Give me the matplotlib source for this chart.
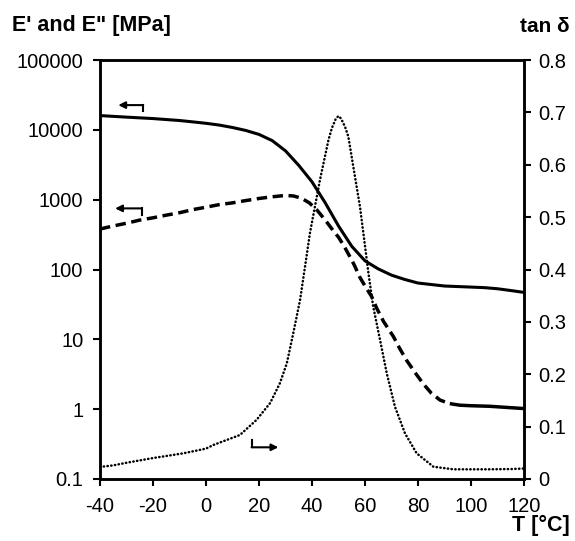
import matplotlib
matplotlib.use("Agg")
import matplotlib.pyplot as plt
import numpy as np

plt.rcParams['font.family'] = ['Liberation Sans', 'DejaVu Sans']

# E' storage modulus [MPa]
T_E1 = [-40, -30, -20, -10, -5, 0, 5, 10, 15, 20, 25, 30, 35, 40, 45, 50, 55, 60, 65, 70, 75, 80, 90, 100, 105, 110, 115, 120]
E1 = [16000, 15200, 14500, 13600, 13000, 12400, 11700, 10800, 9800, 8600, 7000, 5000, 3100, 1800, 900, 420, 215, 133, 102, 83, 72, 64, 58, 56, 55, 53, 50, 47]

# E'' loss modulus [MPa]
T_E2 = [-40, -35, -30, -25, -20, -15, -10, -5, 0, 5, 10, 15, 20, 25, 30, 33, 36, 39, 42, 45, 48, 50, 52, 54, 56, 58, 60,
        62.5, 64.4, 67, 70.7, 73, 75.7, 79, 82, 85, 88.3, 92, 95.8, 100, 107, 115, 120]
E2 = [380, 420, 460, 510, 550, 600, 650, 720, 780, 850, 900, 970, 1040, 1100, 1150, 1130, 1050, 900, 700, 510, 360, 290, 220, 160, 115, 78, 58,
      41, 28, 18, 11, 7.5, 5.0, 3.3, 2.3, 1.7, 1.35, 1.2, 1.14, 1.12, 1.1, 1.05, 1.02]

# tan delta
T_tan = [-40, -35, -30, -20, -8.6, 0, 2.8, 12.8, 19.1, 24.2, 27.9, 30.5, 33, 35.5, 37.5, 39.2, 43, 46.2, 47.5, 49, 50, 51, 52.5, 53.7,
         55.6, 58.1, 60, 61.3, 63.1, 65.7, 68.2, 71.3, 75.1, 79.5, 85.8, 93.3, 100, 107, 115, 120]
tan_d = [0.023, 0.026, 0.031, 0.040, 0.049, 0.058, 0.065, 0.084, 0.113, 0.145, 0.183, 0.221, 0.28, 0.342, 0.41, 0.469, 0.571, 0.647, 0.67, 0.688, 0.693, 0.688, 0.672, 0.654,
         0.596, 0.52, 0.445, 0.393, 0.329, 0.265, 0.202, 0.138, 0.087, 0.049, 0.0235, 0.0185, 0.0185, 0.0185, 0.019, 0.02]

x_ticks = [-40, -20, 0, 20, 40, 60, 80, 100, 120]
left_ticks = [0.1, 1, 10, 100, 1000, 10000, 100000]
left_labels = ['0.1', '1', '10', '100', '1000', '10000', '100000']
right_ticks = [0, 0.1, 0.2, 0.3, 0.4, 0.5, 0.6, 0.7, 0.8]
right_labels = ['0', '0.1', '0.2', '0.3', '0.4', '0.5', '0.6', '0.7', '0.8']

fig = plt.figure(figsize=(5.75, 5.41), dpi=100)
ax = fig.add_axes([100/575, 1-479/541, 424/575, 419/541])
ax2 = ax.twinx()

ax.plot(T_E1, E1, color='black', lw=2.2, solid_capstyle='round', solid_joinstyle='round')
# E'' : dashed, the dense flat tail of the measurement appears solid
split = T_E2.index(92)
ax.plot(T_E2[:split + 1], E2[:split + 1], color='black', lw=2.5, dashes=(3, 1.6))
ax.plot(T_E2[split:], E2[split:], color='black', lw=2.5, solid_capstyle='butt')
ax2.plot(T_tan, tan_d, color='black', lw=1.8, linestyle=(0, (0.15, 1.35)), dash_capstyle='round')

ax.set_yscale('log')
ax.set_xlim(-40, 120)
ax.set_ylim(0.1, 100000)
ax2.set_ylim(0, 0.8)
ax.set_xticks(x_ticks)
ax.set_xticklabels([str(v) for v in x_ticks])
ax.set_yticks(left_ticks)
ax.set_yticklabels(left_labels)
ax.yaxis.set_minor_locator(matplotlib.ticker.NullLocator())
ax2.set_yticks(right_ticks)
ax2.set_yticklabels(right_labels)

fs = 14.5
for a in (ax, ax2):
    a.tick_params(axis='both', direction='out', length=5, width=1.5, labelsize=fs, pad=4)
    for s in a.spines.values():
        s.set_linewidth(1.8)
ax.tick_params(axis='x', pad=8)
ax.tick_params(axis='y', pad=7)
ax2.tick_params(axis='y', pad=5)

aprops = dict(arrowstyle='-|>', lw=1.5, color='black', mutation_scale=10, shrinkA=0, shrinkB=0)
# E' arrow (pointing left)
ax.annotate('', xy=(-33.1, 22600), xytext=(-23.7, 22600), arrowprops=aprops)
ax.plot([-23.7, -23.7], [22600, 18600], color='black', lw=1.5)
# E'' arrow (pointing left)
ax.annotate('', xy=(-34.3, 750), xytext=(-24.3, 750), arrowprops=aprops)
ax.plot([-24.3, -24.3], [750, 600], color='black', lw=1.5)
# tan delta arrow (pointing right)
ax2.annotate('', xy=(27.3, 0.0605), xytext=(17.2, 0.0605), arrowprops=aprops)
ax2.plot([17.2, 17.2], [0.0605, 0.0745], color='black', lw=1.5)

fig.text(12/575, 1-25/541, "E' and E\" [MPa]", fontsize=15.5, fontweight='bold', va='center', ha='left')
fig.text(570/575, 1-26/541, "tan δ", fontsize=15, fontweight='bold', va='center', ha='right')
fig.text(570/575, 1-525/541, "T [°C]", fontsize=15.5, fontweight='bold', va='center', ha='right')

fig.savefig('out.png', dpi=100)
